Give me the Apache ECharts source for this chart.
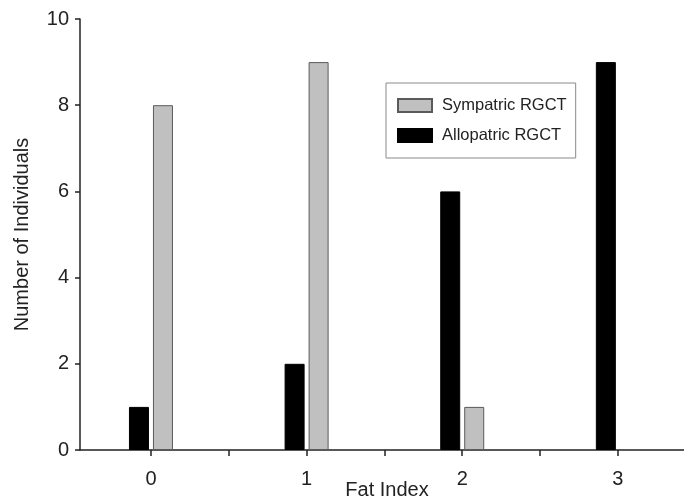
<!DOCTYPE html>
<html>
<head>
<meta charset="utf-8">
<script src="https://cdn.jsdelivr.net/npm/echarts@6/dist/echarts.min.js"></script>
<style>
html,body{margin:0;padding:0;background:#fff;}
#c{width:684px;height:499px;}
</style>
</head>
<body>
<div id="c"></div>
<script>
const fatIndex = [0, 1, 2, 3];
const allopatric = [1, 2, 6, 9];
const sympatric = [8, 9, 1, 0];
const xTicks = [0, 0.5, 1, 1.5, 2, 2.5, 3];
const xLabels = [0, 1, 2, 3];
const seriesNames = ['Sympatric RGCT', 'Allopatric RGCT'];

const FONT = 'Liberation Sans';
const chart = echarts.init(document.getElementById('c'), null, {renderer: 'canvas'});
chart.setOption({
  animation: false,
  backgroundColor: '#fff',
  textStyle: {fontFamily: FONT, color: '#222'},
  grid: {left: 80, right: 0, top: 19, bottom: 49, containLabel: false, outerBoundsMode: 'none'},
  legend: {
    data: seriesNames,
    orient: 'vertical',
    left: 386, top: 83,
    padding: [14, 9, 14, 11],
    itemWidth: 34, itemHeight: 13, itemGap: 13,
    borderColor: '#8a8a8a', borderWidth: 1,
    backgroundColor: '#fff',
    icon: 'rect',
    textStyle: {fontFamily: FONT, fontSize: 16.5, color: '#222', padding: [0, 0, 0, 5]}
  },
  xAxis: {
    type: 'value',
    min: -0.456, max: 3.425,
    name: 'Fat Index', nameLocation: 'middle', nameGap: 30, nameMoveOverlap: false,
    nameTextStyle: {fontFamily: FONT, fontSize: 20, color: '#222', padding: [0, 0, 0, 10]},
    axisLine: {onZero: false, lineStyle: {color: '#222', width: 1.5}},
    axisTick: {show: true, length: 6, customValues: xTicks, lineStyle: {color: '#222', width: 1.5}},
    axisLabel: {customValues: xLabels, fontSize: 20, color: '#222', margin: 19, fontFamily: FONT},
    splitLine: {show: false}
  },
  yAxis: {
    type: 'value', min: 0, max: 10, interval: 2,
    name: 'Number of Individuals', nameLocation: 'middle', nameGap: 48, nameMoveOverlap: false,
    nameTextStyle: {fontFamily: FONT, fontSize: 20, color: '#222'},
    axisLine: {show: true, onZero: false, lineStyle: {color: '#222', width: 1.5}},
    axisTick: {show: true, length: 5, lineStyle: {color: '#222', width: 1.5}},
    axisLabel: {fontSize: 20, color: '#222', margin: 11, fontFamily: FONT},
    splitLine: {show: false}
  },
  series: [
    {
      name: seriesNames[1], type: 'bar', barWidth: 20, barGap: '20%',
      data: fatIndex.map((x, i) => [x, allopatric[i]]),
      itemStyle: {color: '#000', borderColor: '#000', borderWidth: 1}
    },
    {
      name: seriesNames[0], type: 'bar', barWidth: 20, barGap: '20%',
      data: fatIndex.map((x, i) => [x, sympatric[i]]),
      itemStyle: {color: '#c0c0c0', borderColor: '#5a5a5a', borderWidth: 1}
    }
  ]
});
</script>
</body>
</html>
